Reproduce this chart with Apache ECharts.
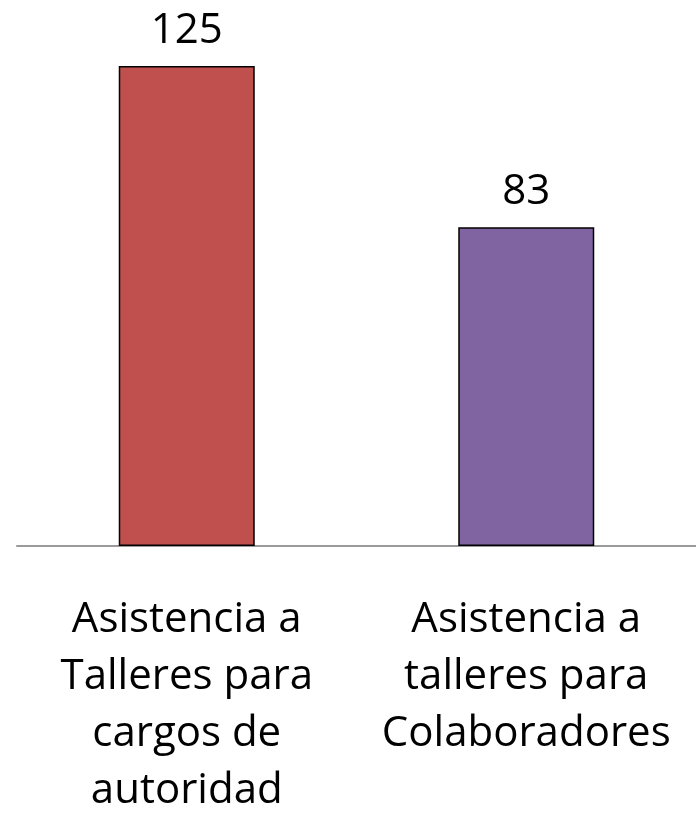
<!DOCTYPE html>
<html><head><meta charset="utf-8">
<script src="https://cdn.jsdelivr.net/npm/echarts@6/dist/echarts.min.js"></script>
<style>html,body{margin:0;padding:0;background:#fff}#c{width:696px;height:819px}</style>
</head><body><div id="c"></div>
<script>
const categories = ["Asistencia a\nTalleres para\ncargos de\nautoridad", "Asistencia a\ntalleres para\nColaboradores"];
const values = [125, 83];
const colors = ["#C0504D", "#8064A2"];

const chart = echarts.init(document.getElementById('c'));
chart.setOption({
  animation: false,
  grid: {left: 17, right: 0, top: 8.5, bottom: 819 - 546, containLabel: false, outerBoundsMode: 'none'},
  xAxis: {
    type: 'category', data: categories,
    axisLine: {lineStyle: {color: '#9a9a9a', width: 2}},
    axisTick: {show: false},
    axisLabel: {interval: 0, margin: 46, fontSize: 42, lineHeight: 57, color: '#000', fontFamily: 'Open Sans'}
  },
  yAxis: {type: 'value', min: 0, max: 140, show: false, splitLine: {show: false}},
  series: [{
    type: 'bar', barWidth: 136,
    data: values.map((v, i) => ({value: v, itemStyle: {color: colors[i]}})),
    itemStyle: {borderColor: '#000', borderWidth: 1.5},
    label: {show: true, position: 'top', distance: 14, fontSize: 42, color: '#000', fontFamily: 'Open Sans'}
  }]
});
</script></body></html>
